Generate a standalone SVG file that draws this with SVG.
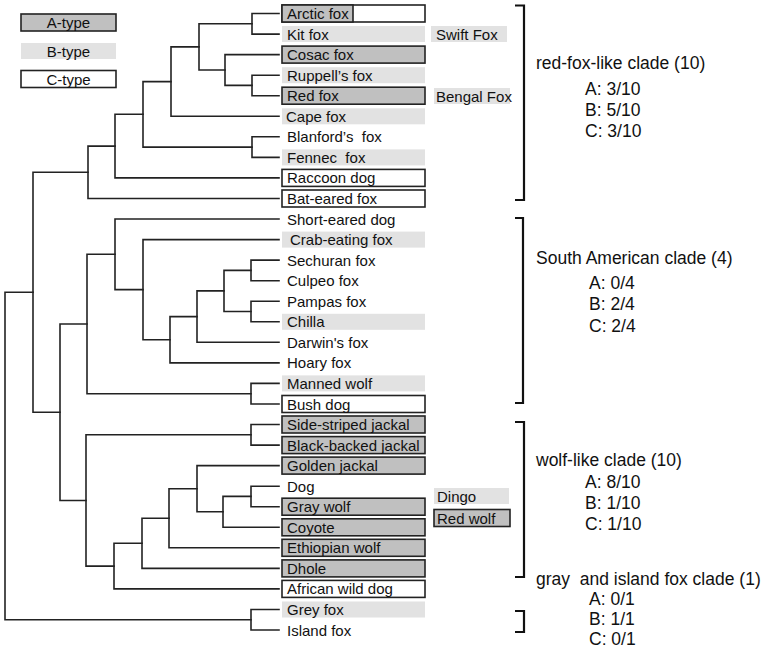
<svg xmlns="http://www.w3.org/2000/svg" width="765" height="660" viewBox="0 0 765 660">
<style>
text{font-family:"Liberation Sans",Arial,sans-serif;fill:#111;white-space:pre}
.leaf{font-size:15px}
.clade{font-size:17.5px}
.a{fill:#c0c0c0;stroke:#222;stroke-width:1.6}
.b{fill:#e2e2e2;stroke:none}
.c{fill:#fff;stroke:#222;stroke-width:1.6}
.tree path{fill:none;stroke:#222;stroke-width:1.6;stroke-linecap:square}
.br{fill:none;stroke:#111;stroke-width:2.2}
</style>
<rect width="765" height="660" fill="#fff"/>
<g id="legend">
<rect class="a" x="21" y="14" width="95" height="17"/><text class="leaf" x="68.5" y="28" text-anchor="middle">A-type</text>
<rect class="b" x="21" y="43" width="95" height="16"/><text class="leaf" x="68.5" y="56.5" text-anchor="middle">B-type</text>
<rect class="c" x="21" y="70.5" width="95" height="17"/><text class="leaf" x="68.5" y="84.5" text-anchor="middle">C-type</text>
</g>
<g class="tree" id="connectors">
<path d="M252,13.5V34.1M252,13.5H279M252,34.1H279"/>
<path d="M252,75.2V95.7M252,75.2H279M252,95.7H279"/>
<path d="M252,136.8V157.4M252,136.8H279M252,157.4H279"/>
<path d="M225,54.6V85.4M225,54.6H279M225,85.4H252"/>
<path d="M199,23.8V70M199,23.8H252M199,70H225"/>
<path d="M171,46.9V116.3M171,46.9H199M171,116.3H279"/>
<path d="M143,81.6V147.1M143,81.6H171M143,147.1H252"/>
<path d="M115,114.3V177.9M115,114.3H143M115,177.9H279"/>
<path d="M88,146.1V198.5M88,146.1H115M88,198.5H279"/>
<path d="M251,260.1V280.7M251,260.1H279M251,280.7H279"/>
<path d="M251,301.2V321.8M251,301.2H279M251,321.8H279"/>
<path d="M224,270.4V311.5M224,270.4H251M224,311.5H251"/>
<path d="M197,290.9V342.3M197,290.9H224M197,342.3H279"/>
<path d="M170,316.6V362.9M170,316.6H197M170,362.9H279"/>
<path d="M143,239.6V339.7M143,239.6H279M143,339.7H170"/>
<path d="M115,219V289.6M115,219H279M115,289.6H143"/>
<path d="M251,383.4V404M251,383.4H279M251,404H279"/>
<path d="M87,254.3V393.7M87,254.3H115M87,393.7H251"/>
<path d="M251,424.5V445.1M251,424.5H279M251,445.1H279"/>
<path d="M251,486.2V506.7M251,486.2H279M251,506.7H279"/>
<path d="M223,496.4V527.3M223,496.4H251M223,527.3H279"/>
<path d="M197,465.6V511.8M197,465.6H279M197,511.8H223"/>
<path d="M169,488.7V547.8M169,488.7H197M169,547.8H279"/>
<path d="M142,518.2V568.4M142,518.2H169M142,568.4H279"/>
<path d="M114,543.3V588.9M114,543.3H142M114,588.9H279"/>
<path d="M86,434.8V566.1M86,434.8H251M86,566.1H114"/>
<path d="M60,324V500.5M60,324H87M60,500.5H86"/>
<path d="M33,172.3V412.2M33,172.3H88M33,412.2H60"/>
<path d="M251,609.5V630M251,609.5H279M251,630H279"/>
<path d="M5,292.3V619.7M5,292.3H33M5,619.7H251"/>
</g>
<g id="arctic-fox"><rect class="c" x="282" y="5" width="143" height="17"/><rect class="a" x="282" y="5" width="71" height="17"/><text class="leaf" x="287" y="19">Arctic fox</text></g>
<g id="kit-fox"><rect class="b" x="282" y="26" width="143" height="16"/><text class="leaf" x="287" y="39.5">Kit fox</text></g>
<g id="cosac-fox"><rect class="a" x="282" y="46.1" width="143" height="17"/><text class="leaf" x="287" y="60.1">Cosac fox</text></g>
<g id="ruppells-fox"><rect class="b" x="282" y="67.2" width="143" height="16"/><text class="leaf" x="287" y="80.6">Ruppell’s fox</text></g>
<g id="red-fox"><rect class="a" x="282" y="87.2" width="143" height="17"/><text class="leaf" x="287" y="101.2">Red fox</text></g>
<g id="cape-fox"><rect class="b" x="282" y="108.3" width="143" height="16"/><text class="leaf" x="286" y="121.7">Cape fox</text></g>
<g id="blanfords-fox"><text class="leaf" x="287" y="142.3">Blanford’s  fox</text></g>
<g id="fennec-fox"><rect class="b" x="282" y="149.4" width="143" height="16"/><text class="leaf" x="287" y="162.8">Fennec  fox</text></g>
<g id="raccoon-dog"><rect class="c" x="282" y="169.4" width="143" height="17"/><text class="leaf" x="287" y="183.4">Raccoon dog</text></g>
<g id="bat-eared-fox"><rect class="c" x="282" y="190" width="143" height="17"/><text class="leaf" x="287" y="204">Bat-eared fox</text></g>
<g id="short-eared-dog"><text class="leaf" x="287" y="224.5">Short-eared dog</text></g>
<g id="crab-eating-fox"><rect class="b" x="282" y="231.6" width="143" height="16"/><text class="leaf" x="290" y="245">Crab-eating fox</text></g>
<g id="sechuran-fox"><text class="leaf" x="287" y="265.6">Sechuran fox</text></g>
<g id="culpeo-fox"><text class="leaf" x="287" y="286.1">Culpeo fox</text></g>
<g id="pampas-fox"><text class="leaf" x="287" y="306.7">Pampas fox</text></g>
<g id="chilla"><rect class="b" x="282" y="313.8" width="143" height="16"/><text class="leaf" x="287" y="327.2">Chilla</text></g>
<g id="darwins-fox"><text class="leaf" x="287" y="347.8">Darwin's fox</text></g>
<g id="hoary-fox"><text class="leaf" x="287" y="368.3">Hoary fox</text></g>
<g id="manned-wolf"><rect class="b" x="282" y="375.4" width="143" height="16"/><text class="leaf" x="287" y="388.9">Manned wolf</text></g>
<g id="bush-dog"><rect class="c" x="282" y="395.5" width="143" height="17"/><text class="leaf" x="287" y="409.5">Bush dog</text></g>
<g id="side-striped-jackal"><rect class="a" x="282" y="416" width="143" height="17"/><text class="leaf" x="287" y="430">Side-striped jackal</text></g>
<g id="black-backed-jackal"><rect class="a" x="282" y="436.6" width="143" height="17"/><text class="leaf" x="287" y="450.6">Black-backed jackal</text></g>
<g id="golden-jackal"><rect class="a" x="282" y="457.1" width="143" height="17"/><text class="leaf" x="287" y="471.1">Golden jackal</text></g>
<g id="dog"><text class="leaf" x="287" y="491.6">Dog</text></g>
<g id="gray-wolf"><rect class="a" x="282" y="498.2" width="143" height="17"/><text class="leaf" x="287" y="512.2">Gray wolf</text></g>
<g id="coyote"><rect class="a" x="282" y="518.8" width="143" height="17"/><text class="leaf" x="287" y="532.8">Coyote</text></g>
<g id="ethiopian-wolf"><rect class="a" x="282" y="539.3" width="143" height="17"/><text class="leaf" x="287" y="553.3">Ethiopian wolf</text></g>
<g id="dhole"><rect class="a" x="282" y="559.9" width="143" height="17"/><text class="leaf" x="287" y="573.9">Dhole</text></g>
<g id="african-wild-dog"><rect class="c" x="282" y="580.4" width="143" height="17"/><text class="leaf" x="287" y="594.4">African wild dog</text></g>
<g id="grey-fox"><rect class="b" x="282" y="601.5" width="143" height="16"/><text class="leaf" x="287" y="614.9">Grey fox</text></g>
<g id="island-fox"><text class="leaf" x="287" y="635.5">Island fox</text></g>
<g id="swift-fox"><rect class="b" x="431" y="26" width="76" height="16"/><text class="leaf" x="436" y="39.5">Swift Fox</text></g>
<g id="bengal-fox"><rect class="b" x="434" y="88" width="76" height="16"/><text class="leaf" x="436" y="101.5">Bengal Fox</text></g>
<g id="dingo"><rect class="b" x="434" y="488" width="75" height="16"/><text class="leaf" x="437" y="501.5">Dingo</text></g>
<g id="red-wolf"><rect class="a" x="434" y="509.5" width="76" height="17"/><text class="leaf" x="437" y="523.5">Red wolf</text></g>
<g id="red-fox-like-clade"><path class="br" d="M515,5.5H524V200H515"/><text class="clade" x="536" y="69">red-fox-like clade (10)</text><text class="clade" x="585" y="95">A: 3/10</text><text class="clade" x="585" y="116">B: 5/10</text><text class="clade" x="585" y="137">C: 3/10</text></g>
<g id="south-american-clade"><path class="br" d="M515,218H523V403H515"/><text class="clade" x="536" y="264">South American clade (4)</text><text class="clade" x="589" y="289">A: 0/4</text><text class="clade" x="589" y="310">B: 2/4</text><text class="clade" x="589" y="332">C: 2/4</text></g>
<g id="wolf-like-clade"><path class="br" d="M515,422H524V577H515"/><text class="clade" x="536" y="466">wolf-like clade (10)</text><text class="clade" x="585" y="488">A: 8/10</text><text class="clade" x="585" y="509">B: 1/10</text><text class="clade" x="585" y="530">C: 1/10</text></g>
<g id="gray-island-fox-clade"><path class="br" d="M515,611H524V632H515"/><text class="clade" x="536" y="585">gray  and island fox clade (1)</text><text class="clade" x="589" y="605">A: 0/1</text><text class="clade" x="589" y="625">B: 1/1</text><text class="clade" x="589" y="645">C: 0/1</text></g>
</svg>
